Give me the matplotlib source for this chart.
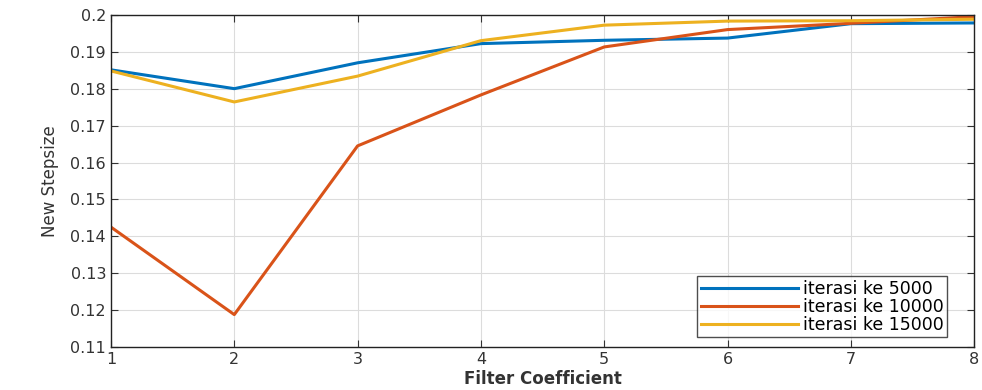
import numpy as np
import matplotlib.pyplot as plt

# Data
filter_coef = [1, 2, 3, 4, 5, 6, 7, 8]
iter_5000 = [0.1851, 0.1800, 0.1870, 0.1922, 0.1931, 0.1937, 0.1976, 0.1978]
iter_10000 = [0.1425, 0.1188, 0.1645, 0.1783, 0.1913, 0.1960, 0.1977, 0.1995]
iter_15000 = [0.1848, 0.1764, 0.1834, 0.1930, 0.1972, 0.1983, 0.1984, 0.1988]

labels = ["iterasi ke 5000", "iterasi ke 10000", "iterasi ke 15000"]
colors = ["#0072BD", "#D95319", "#EDB120"]
y_ticks = [0.11, 0.12, 0.13, 0.14, 0.15, 0.16, 0.17, 0.18, 0.19, 0.2]

fig = plt.figure(figsize=(9.82, 3.9), dpi=100)
ax = fig.add_axes([0.113, 0.110, 0.879, 0.852])

for ys, lab, c in zip([iter_5000, iter_10000, iter_15000], labels, colors):
    ax.plot(filter_coef, ys, color=c, lw=2.2, label=lab)

ax.set_xlim(1, 8)
ax.set_ylim(0.11, 0.2)
ax.set_xticks(filter_coef)
ax.set_yticks(y_ticks)
ax.set_yticklabels(["0.11", "0.12", "0.13", "0.14", "0.15", "0.16", "0.17", "0.18", "0.19", "0.2"])
ax.grid(True, color="#dcdcdc", lw=0.8)
ax.tick_params(direction="in", top=True, right=True, labelsize=11.5, colors="#333333",
               length=5)
for s in ax.spines.values():
    s.set_color("#222222")
    s.set_linewidth(1.0)

ax.set_xlabel("Filter Coefficient", fontsize=12, fontweight="bold", color="#333333", labelpad=2)
ax.set_ylabel("New Stepsize", fontsize=12, color="#333333", labelpad=8)

leg = ax.legend(loc="lower right", bbox_to_anchor=(0.969, 0.03), fontsize=12.5,
                handlelength=5.6, frameon=True, fancybox=False, borderpad=0.2,
                labelspacing=0.0, handletextpad=0.3, borderaxespad=0)
leg.get_frame().set_edgecolor("#222222")
leg.get_frame().set_linewidth(1.0)

plt.savefig("out.png", dpi=100)
